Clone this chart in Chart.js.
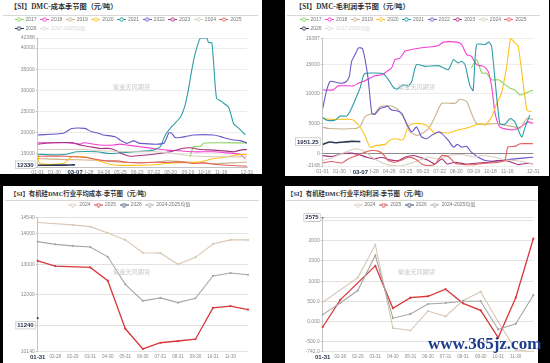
<!DOCTYPE html>
<html>
<head>
<meta charset="utf-8">
<script src="https://cdn.jsdelivr.net/npm/chart.js@4"></script>
<style>
  html, body { margin: 0; padding: 0; background: #000; width: 550px; height: 363px; overflow: hidden; }
  .panel { position: absolute; background: #fff; overflow: hidden; }
  .title { position: absolute; border-bottom: 1px solid #d8d8d8; color: #333; white-space: nowrap;
           font: bold 7.2px "Liberation Serif", "Noto Sans CJK SC", serif; }
  .title.small { font-size: 6.4px; }
  .panel canvas { position: absolute; left: 0; top: 12px; }
  .wm { position: absolute; font: 6.2px "Noto Sans CJK SC", sans-serif; color: #c9c9c9; white-space: nowrap; }
  .site { position: absolute; left: 428px; top: 334px; font: bold 17px "Liberation Serif", serif; color: #1d3c8c; white-space: nowrap; }
</style>
</head>
<body>
<div class="panel" style="left:0;top:0;width:262px;height:174px">
  <div class="title" style="left:3px;top:0;width:248px;height:15px;line-height:15px;padding-left:7px">【SI】DMC-成本季节图（元/吨）</div>
  <canvas id="costChart" width="262" height="162"></canvas>
</div>
<div class="panel" style="left:285px;top:0;width:264px;height:176px">
  <div class="title" style="left:2px;top:0;width:245px;height:15px;line-height:15px;padding-left:8px">【SI】DMC-毛利润季节图（元/吨）</div>
  <canvas id="profitChart" width="264" height="164"></canvas>
</div>
<div class="panel" style="left:3px;top:186px;width:259px;height:177px">
  <div class="title small" style="left:2px;top:2px;width:249px;height:12px;line-height:12px;padding-left:5px">【SI】有机硅DMC行业平均成本-季节图（元/吨）</div>
  <canvas id="avgCostChart" width="259" height="165"></canvas>
</div>
<div class="panel" style="left:285px;top:186px;width:253px;height:177px">
  <div class="title small" style="left:1px;top:2px;width:250px;height:12px;line-height:12px;padding-left:1px">【SI】有机硅DMC行业平均利润-季节图（元/吨）</div>
  <canvas id="avgProfitChart" width="253" height="165"></canvas>
</div>
<div class="wm" style="left:113px;top:82px">紫金天风期货</div>
<div class="wm" style="left:398px;top:82px">紫金天风期货</div>
<div class="wm" style="left:113px;top:267px">紫金天风期货</div>
<div class="wm" style="left:398px;top:267px">紫金天风期货</div>
<div class="site">www.365jz.com</div>

<script>
// ---------- 上面两张: 季节图, x = 年内天数 (0 = 01-01) ----------
const yearLabels = ["2017", "2018", "2019", "2020", "2021", "2022", "2023", "2024", "2025", "2026", "2017-2025均值"];
const yearColors = ["#8bd35c", "#f43fcf", "#c8b38b", "#ffc21c", "#2b9ea6", "#6a57c8", "#a3317c", "#d8cdbd", "#e2605d", "#2b3953", "#d9d9d9"];

const seasonTickDays = [0, 29, 58, 86, 115, 144, 173, 202, 231, 261, 290, 319, 364];
const seasonTickLabels = ["01-01", "01-30", "02-28", "03-28", "04-26", "05-25", "06-23", "07-22", "08-20", "09-19", "10-18", "11-16", "12-31"];

// DMC 成本 [天, 元/吨]
const costTicks = [11800, 15000, 20000, 25000, 30000, 35000, 40000, 42388];
const cost2017 = [[265, 14200], [271, 16600], [283, 16700], [289, 17500], [364, 17500]];
const cost2018 = [[0, 17540], [51, 17540], [74, 17220], [80, 17540], [109, 17000], [132, 17000], [143, 17220], [155, 17000], [178, 16600], [202, 16200], [225, 15800], [248, 15640], [271, 15400], [306, 15400], [329, 15160], [341, 15000], [352, 14840], [361, 13800]];
const cost2019 = [[0, 13800], [51, 13560], [103, 13400], [138, 13000], [178, 12850], [207, 13000], [225, 13250], [260, 13000], [306, 12600], [341, 12780], [364, 13000]];
const cost2020 = [[0, 14840], [4, 12620], [45, 12620], [59, 14200], [82, 14200], [103, 13400], [120, 12620], [138, 12220], [178, 12220], [213, 12460], [231, 12780], [260, 12860], [283, 13020], [306, 13800], [323, 14050], [341, 14600], [364, 14840]];
const cost2021 = [[0, 14840], [27, 14680], [50, 14840], [68, 15400], [103, 15400], [126, 15000], [167, 15400], [201, 15800], [213, 16600], [222, 19400], [233, 21350], [248, 23600], [256, 26300], [262, 30100], [268, 34850], [274, 38800], [283, 42388], [294, 42388], [297, 41350], [303, 41200], [311, 28100], [320, 27300], [332, 25950], [341, 22000], [350, 20950], [361, 19400]];
const cost2022 = [[0, 19400], [45, 19800], [59, 20950], [82, 20950], [94, 20150], [106, 19800], [114, 19400], [135, 18970], [143, 18200], [155, 17400], [167, 18000], [178, 17400], [219, 17400], [228, 19900], [233, 19800], [239, 18800], [248, 18800], [257, 19000], [271, 19400], [306, 19400], [318, 19000], [329, 18570], [341, 18200], [352, 18050], [364, 17500]];
const cost2023 = [[0, 17220], [27, 17540], [62, 17540], [74, 17000], [91, 16600], [109, 16200], [126, 16200], [138, 15600], [149, 14840], [161, 14360], [184, 14600], [202, 14840], [219, 15160], [231, 15400], [251, 16200], [265, 16350], [283, 15950], [306, 15800], [329, 15560], [341, 15400], [352, 15800], [364, 15950]];
const cost2024 = [[0, 15950], [80, 15950], [109, 15640], [167, 15400], [207, 15400], [236, 15000], [260, 14600], [283, 14360], [341, 14200], [364, 14200]];
const cost2025 = [[0, 14360], [51, 14360], [68, 14200], [85, 14050], [103, 13560], [120, 13250], [138, 13250], [155, 12940], [178, 12780], [207, 12940], [225, 12860], [248, 13020], [271, 12620], [289, 12780], [306, 12460], [329, 12220], [364, 11980]];
const cost2026 = [[0, 12200], [20, 12220], [40, 12250], [55, 12260], [60, 12300], [65, 12330]];
const costMean = [[0, 16400], [59, 16600], [115, 16300], [173, 15900], [231, 16300], [261, 17300], [290, 19600], [319, 18200], [364, 17000]];

// DMC 毛利润 [天, 元/吨]
const profitTicks = [-2168, 0, 5000, 10000, 15000, 19387];
const profit2017 = [[257, 14370], [266, 15790], [275, 13520], [283, 13520], [292, 12380], [304, 12380], [312, 11810], [324, 10960], [332, 10680], [341, 9830], [350, 10110], [358, 10400], [364, 10680]];
const profit2018 = [[0, 10680], [18, 10680], [27, 11360], [53, 11360], [62, 11800], [70, 12100], [82, 12670], [90, 13060], [102, 13230], [111, 13800], [119, 14370], [125, 15790], [134, 16070], [142, 17210], [154, 17490], [171, 17780], [188, 17950], [200, 18180], [209, 18740], [232, 18740], [240, 18350], [249, 16640], [257, 16360], [266, 14940], [278, 14650], [286, 13800], [292, 11250], [298, 6700], [306, 4430], [321, 3980], [332, 3980], [344, 4540], [355, 5280], [364, 5000]];
const profit2019 = [[0, 4430], [10, 4150], [56, 4150], [65, 4540], [73, 6130], [85, 6700], [90, 6700], [99, 7840], [119, 7950], [131, 7270], [142, 5570], [151, 3580], [165, 3010], [183, 4150], [194, 6130], [206, 8410], [229, 8410], [237, 9090], [249, 8690], [257, 6700], [266, 5000], [281, 4880], [301, 5000], [315, 4710], [332, 4430], [341, 4150], [353, 5850], [364, 5680]];
const profit2020 = [[0, 5850], [16, 5680], [50, 5680], [62, 4710], [73, 3010], [82, 1020], [93, 1310], [108, 1480], [116, 2160], [125, 2440], [139, 2270], [148, 4540], [160, 5000], [174, 4880], [183, 4430], [194, 3300], [200, 3580], [217, 3410], [232, 3860], [246, 4150], [263, 4710], [275, 5000], [281, 4710], [292, 6130], [301, 8410], [309, 10110], [318, 14650], [325, 19387], [332, 18630], [338, 18060], [353, 7270], [361, 6990]];
const profit2021 = [[0, 6020], [7, 5570], [21, 5570], [30, 6250], [41, 6250], [47, 6990], [56, 8970], [65, 11130], [72, 13400], [90, 13520], [105, 13400], [113, 12500], [122, 11130], [128, 10790], [139, 11530], [148, 11360], [154, 12100], [162, 14940], [177, 14650], [200, 14770], [217, 14090], [226, 15790], [234, 15220], [240, 15500], [246, 14940], [254, 11530], [260, 10560], [266, 18350], [281, 18350], [287, 18740], [292, 18000], [306, 5000], [315, 4880], [324, 5850], [332, 5280], [344, 2730], [350, 4430], [358, 6420]];
const profit2022 = [[0, 7550], [7, 10680], [13, 12100], [24, 11930], [33, 11800], [41, 12100], [46, 12950], [50, 15500], [56, 16640], [62, 17780], [69, 17610], [78, 12950], [85, 6700], [90, 6530], [99, 7550], [108, 7780], [112, 7950], [119, 7270], [128, 7160], [137, 6700], [145, 5000], [154, 3580], [162, 4430], [171, 2730], [180, 2440], [188, 3000], [200, 3580], [206, 3300], [217, 2160], [226, 1020], [233, 1480], [240, 1020], [249, 1140], [257, 170], [269, -680], [281, -1250], [298, -1360], [315, -1140], [332, -970], [350, -800], [364, -680]];
const profit2023 = [[0, -400], [16, -570], [33, -110], [50, 0], [62, -230], [76, -680], [90, -970], [102, -680], [116, -1140], [131, -1250], [142, -680], [157, -400], [171, -800], [183, -1250], [194, -1820], [206, -970], [215, -1820], [229, -1530], [246, -1820], [263, -1700], [286, -1530], [304, -1250], [321, -1360], [338, -1930], [355, -1700], [364, -1820]];
const profit2024 = [[0, -1250], [18, -680], [39, 170], [56, 740], [70, 450], [85, -680], [108, -1820], [131, -2168], [148, -1820], [165, -1250], [183, -680], [200, -970], [217, -400], [240, -230], [263, -680], [275, -400], [298, -680], [315, -1140], [332, -1250], [350, -1530], [364, -1820]];
const profit2025 = [[0, -1650], [16, -1420], [33, -1650], [44, -970], [59, -400], [73, 170], [85, 450], [96, 340], [105, -230], [113, -1250], [125, -1530], [137, -1140], [148, -680], [160, -970], [171, -1820], [183, -2100], [194, -1820], [206, -400], [217, -570], [229, -1700], [246, -1930], [263, -1930], [281, -1700], [304, -1530], [315, -1140], [320, 1020], [332, 1140], [341, 1590], [364, 1590]];
const profit2026 = [[0, 1480], [12, 1870], [24, 1760], [36, 1870], [50, 1990], [65, 1951.25]];
const profitMean = [[0, 3900], [59, 4500], [119, 4700], [173, 4500], [231, 5200], [290, 4000], [319, 3500], [364, 3000]];

// ---------- 下面两张: 行业平均, 月度 ----------
const monthCats = ["01-31", "02-28", "02-29", "03-31", "04-30", "05-31", "06-30", "07-31", "08-31", "09-30", "10-31", "11-30", "12-31"];
const avgLabels = ["2024", "2025", "2026", "2024-2025均值"];
const avgColors = ["#d8c7b4", "#d9383b", "#33476b", "#a6a6a6"];

const avgCostTicks = [10140, 11000, 12000, 13000, 14000, 14540];
const avgCost2024 = [14377, null, 14297, 14240, 14034, 13806, 13383, 13371, 13006, 13234, 13669, 13806, 13806];
const avgCost2025 = [13120, 12949, null, 12903, 12469, 10891, 10229, 10434, 10491, 10549, 11577, 11634, 11520];
const avgCost2026 = [11240];
const avgCostMean = [13749, 13660, 13610, 13571, 13251, 12349, 11806, 11903, 11749, 11891, 12623, 12720, 12663];

const avgProfitTicks = [-742, -500, 0, 500, 1000, 1500, 2000, 2500, 2575];
const avgProfit2024 = [480, null, 1090, 1902, -157, -218, 262, 131, 524, 742, 0, -697, -742];
const avgProfit2025 = [-131, 540, null, 1379, 332, 593, 628, 803, 454, 279, -393, 593, 2051];
const avgProfit2026 = [2575];
const avgProfitMean = [175, 460, 770, 1640, 87, 192, 436, 462, 506, 506, -192, -52, 654];

// ---------- 通用 ----------
Chart.defaults.font.family = '"Liberation Sans", "Noto Sans CJK SC", sans-serif';
Chart.defaults.animation = false;

const tickFont = { size: 5 };
const tickColor = "#8a8a8a";

function legendIcon(color) {
  const c = document.createElement("canvas");
  c.width = 9;
  c.height = 5;
  const g = c.getContext("2d");
  g.strokeStyle = color;
  g.lineWidth = 1;
  g.beginPath();
  g.moveTo(0, 2.5);
  g.lineTo(9, 2.5);
  g.stroke();
  g.fillStyle = "#fff";
  g.beginPath();
  g.arc(4.5, 2.5, 1.7, 0, Math.PI * 2);
  g.fill();
  g.stroke();
  return c;
}

function legendOpts(align, maxHeight) {
  return {
    display: true,
    align,
    maxHeight,
    labels: {
      usePointStyle: true,
      pointStyleWidth: 8,
      boxHeight: 5,
      padding: 4,
      font: { size: 5 },
      color: "#777",
      sort: (a, b) => a.datasetIndex - b.datasetIndex,
      generateLabels(chart) {
        return chart.data.datasets.map((ds, i) => ({
          text: ds.label,
          datasetIndex: i,
          hidden: false,
          fontColor: ds.hidden ? "#d4d4d4" : "#777",
          pointStyle: legendIcon(ds.hidden ? "#dcdcdc" : ds.borderColor),
          strokeStyle: ds.borderColor,
          fillStyle: ds.borderColor,
          lineWidth: 0,
        }));
      },
    },
  };
}

// 纵轴左侧最新值方框 + 横轴最新日期
const markPlugin = {
  id: "mark",
  afterDraw(chart, args, o) {
    const { ctx, chartArea, scales } = chart;
    ctx.save();
    ctx.font = 'bold 6px "Liberation Sans", Arial, sans-serif';
    ctx.textAlign = "center";
    ctx.textBaseline = "middle";

    const vy = scales.y.getPixelForValue(o.value) + (o.dy || 0);
    const vw = ctx.measureText(o.text).width + 3;
    const vx = chartArea.left - 2.5 - vw;
    ctx.fillStyle = "#fff";
    ctx.fillRect(vx, vy - 3.8, vw, 7.6);
    ctx.strokeStyle = "#b5b5b5";
    ctx.lineWidth = 0.6;
    ctx.strokeRect(vx, vy - 3.8, vw, 7.6);
    ctx.fillStyle = "#1f2a44";
    ctx.fillText(o.text, vx + vw / 2, vy + 0.3);

    const dx = scales.x.getPixelForValue(o.x);
    const dw = ctx.measureText(o.date).width + 4;
    const dy = chartArea.bottom + o.dateOffset;
    ctx.fillStyle = "#fff";
    ctx.fillRect(dx - dw / 2, dy - 3.5, dw, 7);
    ctx.fillStyle = "#1f2a44";
    ctx.fillText(o.date, dx, dy);
    ctx.restore();
  },
};

function seasonChart(canvasId, series, yTicks, lay, mark) {
  const datasets = series.map((pts, i) => ({
    label: yearLabels[i],
    data: pts.map((p) => ({ x: p[0], y: p[1] })),
    borderColor: yearColors[i],
    backgroundColor: yearColors[i],
    borderWidth: i === 9 ? 1.6 : 1.1,
    pointRadius: 0,
    tension: 0.2,
    order: -i,
    hidden: i === series.length - 1,
  }));

  return new Chart(document.getElementById(canvasId), {
    type: "line",
    data: { datasets },
    plugins: [markPlugin],
    options: {
      responsive: false,
      devicePixelRatio: 1,
      layout: { padding: lay.padding },
      plugins: {
        legend: legendOpts("start", lay.legendHeight),
        tooltip: { enabled: false },
        mark,
      },
      scales: {
        x: {
          type: "linear",
          min: 0,
          max: 364,
          afterBuildTicks: (s) => {
            s.ticks = seasonTickDays.map((v) => ({ value: v }));
          },
          afterFit: (s) => {
            s.height = lay.xHeight;
          },
          ticks: {
            autoSkip: false,
            maxRotation: 0,
            padding: 2.5,
            font: tickFont,
            color: tickColor,
            callback: (v) => seasonTickLabels[seasonTickDays.indexOf(v)],
          },
          grid: { display: false, drawTicks: false },
          border: { display: lay.xBorder, color: "#c4c4c4" },
        },
        y: {
          min: yTicks[0],
          max: yTicks[yTicks.length - 1],
          afterBuildTicks: (s) => {
            s.ticks = yTicks.map((v) => ({ value: v }));
          },
          afterFit: (s) => {
            s.width = 26.7;
          },
          ticks: { font: tickFont, color: tickColor, padding: 1, callback: (v) => String(v) },
          grid: {
            color: (c) => (c.tick && c.tick.value === 0 ? "#8c8c8c" : "#ececec"),
            tickLength: 2,
            tickColor: "#c4c4c4",
          },
          border: { color: "#c4c4c4" },
        },
      },
    },
  });
}

function monthChart(canvasId, series, yTicks, lay, mark, fmt) {
  const datasets = series.map((vals, i) => ({
    label: avgLabels[i],
    data: vals,
    borderColor: avgColors[i],
    backgroundColor: avgColors[i],
    borderWidth: i === 1 ? 1.3 : 1.1,
    pointRadius: 1.1,
    pointBorderWidth: 0,
    pointBackgroundColor: avgColors[i],
    spanGaps: true,
    tension: 0,
    order: -i,
  }));

  return new Chart(document.getElementById(canvasId), {
    type: "line",
    data: { labels: monthCats, datasets },
    plugins: [markPlugin],
    options: {
      responsive: false,
      devicePixelRatio: 1,
      layout: { padding: lay.padding },
      plugins: {
        legend: legendOpts("center", lay.legendHeight),
        tooltip: { enabled: false },
        mark,
      },
      scales: {
        x: {
          type: "category",
          offset: false,
          afterFit: (s) => {
            s.height = lay.xHeight;
          },
          ticks: {
            autoSkip: false,
            maxRotation: 0,
            padding: 2.8,
            font: { size: 4.5 },
            color: tickColor,
            callback: (v, i) => (i === monthCats.length - 1 ? "" : monthCats[i]),
          },
          grid: { display: false, drawTicks: false },
          border: { display: false },
        },
        y: {
          min: yTicks[0],
          max: yTicks[yTicks.length - 1],
          afterBuildTicks: (s) => {
            s.ticks = yTicks.map((v) => ({ value: v }));
          },
          afterFit: (s) => {
            s.width = 26.7;
          },
          ticks: { font: tickFont, color: tickColor, padding: 1, callback: fmt },
          grid: { color: "#e2e2e2", tickLength: 2, tickColor: "#c4c4c4" },
          border: { color: "#c4c4c4" },
        },
      },
    },
  });
}

seasonChart(
  "costChart",
  [cost2017, cost2018, cost2019, cost2020, cost2021, cost2022, cost2023, cost2024, cost2025, cost2026, costMean],
  costTicks,
  { padding: { left: 11, top: 1, right: 15, bottom: 0 }, legendHeight: 25, xHeight: 7, xBorder: true },
  { value: cost2026[cost2026.length - 1][1], text: String(cost2026[cost2026.length - 1][1]), x: 65, date: "03-07", dateOffset: 5 }
);

seasonChart(
  "profitChart",
  [profit2017, profit2018, profit2019, profit2020, profit2021, profit2022, profit2023, profit2024, profit2025, profit2026, profitMean],
  profitTicks,
  { padding: { left: 11, top: 1, right: 15.7, bottom: 0 }, legendHeight: 25.3, xHeight: 10, xBorder: false },
  { value: profit2026[profit2026.length - 1][1], text: String(profit2026[profit2026.length - 1][1]), x: 65, date: "03-07", dateOffset: 6 }
);

monthChart(
  "avgCostChart",
  [avgCost2024, avgCost2025, avgCost2026, avgCostMean],
  avgCostTicks,
  { padding: { left: 8, top: 0.5, right: 14, bottom: 0 }, legendHeight: 24.8, xHeight: 11.3 },
  { value: avgCost2026[0], text: String(avgCost2026[0]), dy: 7, x: 0, date: monthCats[0], dateOffset: 5.3 },
  (v) => String(v)
);

monthChart(
  "avgProfitChart",
  [avgProfit2024, avgProfit2025, avgProfit2026, avgProfitMean],
  avgProfitTicks,
  { padding: { left: 11, top: 0.5, right: 4.7, bottom: 0 }, legendHeight: 26.5, xHeight: 11.3 },
  { value: avgProfit2026[0], text: String(avgProfit2026[0]), x: 0, date: monthCats[0], dateOffset: 5.3 },
  (v) => (Math.abs(v) >= 1000 ? String(v) : v.toPrecision(4))
);
</script>
</body>
</html>
